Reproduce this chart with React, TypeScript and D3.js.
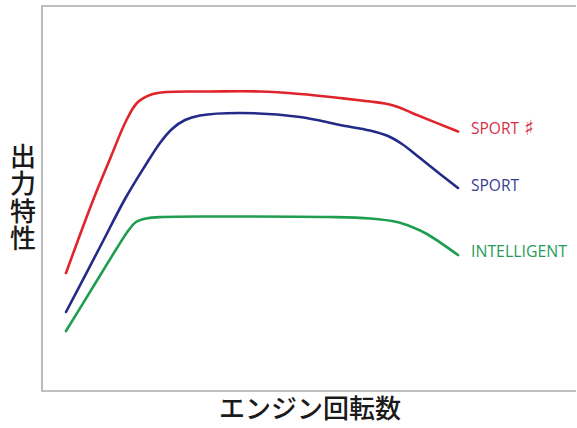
import React from "react";
import * as d3 from "d3";

// Engine speed (% of range) and output (relative units)
const sportSharpRpm = [0, 6.63, 11.22, 15.31, 18.11, 21.43, 25.77, 36.73, 49.49, 59.69, 69.9, 77.55, 81.38, 84.69, 88.27, 100];
const sportSharpOut = [30.65, 48.83, 60.26, 70.13, 74.81, 76.88, 77.66, 77.79, 77.79, 77.14, 76.1, 75.19, 74.68, 73.77, 72.21, 67.4];

const sportRpm = [0, 8.67, 15.05, 20.15, 23.98, 27.04, 30.36, 34.18, 44.39, 59.69, 69.9, 77.55, 82.14, 85.71, 90.31, 95.41, 100];
const sportOut = [20.52, 37.4, 49.87, 58.44, 64.42, 68.05, 70.39, 71.56, 72.21, 71.17, 69.09, 67.66, 66.23, 64.16, 60.52, 56.36, 52.73];

const intelligentRpm = [0, 6.89, 13.01, 15.82, 17.86, 20.41, 24.74, 36.73, 67.35, 77.55, 84.44, 88.27, 92.09, 100];
const intelligentOut = [15.58, 27.01, 37.14, 41.56, 43.9, 44.81, 45.19, 45.32, 45.19, 44.81, 43.9, 42.6, 40.78, 35.32];

const seriesNames = ["SPORT ♯", "SPORT", "INTELLIGENT"];
const lineColors = ["#e1232b", "#232a88", "#1f9e50"];
const textColors = ["#d83048", "#383d90", "#2a9a5c"];

const xAxisTitle = "エンジン回転数";
const yAxisTitle = "出力特性";

const W = 577;
const H = 428;

export default function App() {
  const frame = { left: 42, top: 6, bottom: 391, right: 576 };
  const x = d3.scaleLinear().domain([0, 100]).range([66, 458]);
  const y = d3.scaleLinear().domain([0, 100]).range([frame.bottom, frame.top]);

  const series = [
    { rpm: sportSharpRpm, out: sportSharpOut },
    { rpm: sportRpm, out: sportOut },
    { rpm: intelligentRpm, out: intelligentOut },
  ];

  const line = d3
    .line<[number, number]>()
    .x((d) => x(d[0]))
    .y((d) => y(d[1]))
    .curve(d3.curveCatmullRom.alpha(0.5));

  const labelWidths = [48, 48, 96];
  const labelDy = [2, 3, 2];

  return (
    <svg
      width={W}
      height={H}
      style={{ position: "absolute", left: 0, top: 0, background: "#fff" }}
    >
      <rect x={0} y={0} width={W} height={H} fill="#fff" />
      {/* frame */}
      <path
        d={`M${frame.right},${frame.top}H${frame.left}V${frame.bottom}H${frame.right}`}
        fill="none"
        stroke="#ababab"
        strokeWidth={1.6}
      />
      {series.map((s, i) => {
        const pts: [number, number][] = s.rpm.map((r, j) => [r, s.out[j]]);
        const last = pts[pts.length - 1];
        const parts = seriesNames[i].split(" ");
        const lx = x(last[0]) + 13;
        const ly = y(last[1]) + labelDy[i];
        return (
          <g key={i}>
            <path
              d={line(pts) || ""}
              fill="none"
              stroke={lineColors[i]}
              strokeWidth={2.6}
              strokeLinecap="round"
              strokeLinejoin="round"
            />
            <text
              x={lx}
              y={ly}
              fill={textColors[i]}
              fontFamily="'Open Sans', 'DejaVu Sans', sans-serif"
              fontSize={16.5}
              textLength={labelWidths[i]}
              lengthAdjust="spacingAndGlyphs"
            >
              {parts[0]}
            </text>
            {parts.length > 1 && (
              <text
                x={lx + labelWidths[i] + 5}
                y={ly + 1}
                fill={textColors[i]}
                fontFamily="'DejaVu Sans', sans-serif"
                fontSize={21}
              >
                {parts[1]}
              </text>
            )}
          </g>
        );
      })}
      {/* y axis title, vertical */}
      <text
        x={23}
        y={143}
        style={{ writingMode: "vertical-rl" } as any}
        fontFamily="'Noto Sans CJK JP', sans-serif"
        fontWeight={500}
        fontSize={26}
        letterSpacing={1.5}
        fill="#1a1a1a"
      >
        {yAxisTitle}
      </text>
      <text
        x={310}
        y={418}
        textAnchor="middle"
        fontFamily="'Noto Sans CJK JP', sans-serif"
        fontWeight={500}
        fontSize={26}
        fill="#1a1a1a"
      >
        {xAxisTitle}
      </text>
    </svg>
  );
}
